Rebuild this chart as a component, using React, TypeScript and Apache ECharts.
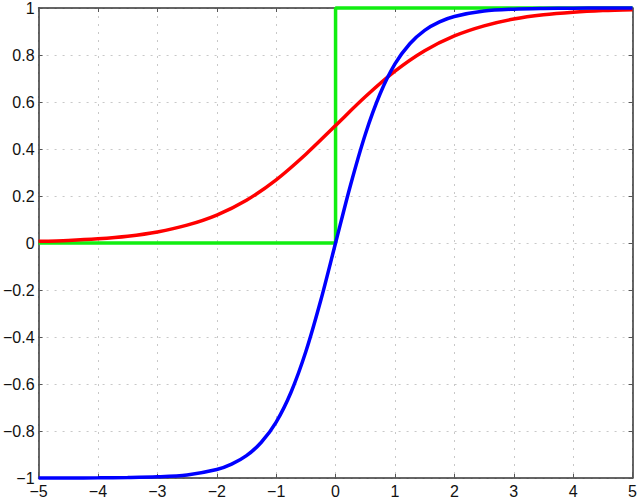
import React, { useEffect, useRef } from "react";
import * as echarts from "echarts";

const sigmoidX = [-5, -4.5, -4, -3.5, -3, -2.5, -2, -1.5, -1, -0.5, 0, 0.5, 1, 1.5, 2, 2.5, 3, 3.5, 4, 4.5, 5];
const sigmoidY = [0.007, 0.011, 0.018, 0.029, 0.047, 0.076, 0.119, 0.182, 0.269, 0.378, 0.5, 0.622, 0.731, 0.818, 0.881, 0.924, 0.953, 0.971, 0.982, 0.989, 0.993];

const tanhX = [-5, -4.5, -4, -3.5, -3, -2.5, -2, -1.75, -1.5, -1.25, -1, -0.75, -0.5, -0.25, 0, 0.25, 0.5, 0.75, 1, 1.25, 1.5, 1.75, 2, 2.5, 3, 3.5, 4, 4.5, 5];
const tanhY = [-1.0, -0.9998, -0.9993, -0.998, -0.995, -0.987, -0.964, -0.941, -0.905, -0.848, -0.762, -0.635, -0.462, -0.245, 0, 0.245, 0.462, 0.635, 0.762, 0.848, 0.905, 0.941, 0.964, 0.987, 0.995, 0.998, 0.9993, 0.9998, 1.0];

const stepX = [-5, 0, 0, 5];
const stepY = [0, 0, 1, 1];

const zip = (xs: number[], ys: number[]) => xs.map((x, i) => [x, ys[i]]);
const fmt = (v: number) => {
  const r = Math.round(v * 10) / 10;
  return String(r).replace("-", "\u2212");
};

export default function App() {
  const ref = useRef<HTMLDivElement>(null);
  useEffect(() => {
    const chart = echarts.init(ref.current!, null, { renderer: "svg" });
    const labelStyle = { color: "#111", fontSize: 16, fontFamily: "Liberation Sans, Arial, sans-serif" };
    const axisLine = { show: true, onZero: false, lineStyle: { color: "#333", width: 1.5 } };
    const tick = { show: true, inside: true, length: 4, lineStyle: { color: "#555" } };
    const split = { show: true, lineStyle: { color: "#c8c8c8", type: [2, 6] as any, width: 1 } };
    chart.setOption({
      animation: false,
      backgroundColor: "#fff",
      grid: { left: 35, right: 4, top: 6, bottom: 20, containLabel: false },
      xAxis: [
        {
          type: "value", min: -5, max: 5, interval: 1, position: "bottom",
          axisLine, axisTick: tick, splitLine: split,
          axisLabel: { ...labelStyle, margin: 5, formatter: fmt },
        },
        {
          type: "value", min: -5, max: 5, interval: 1, position: "top",
          axisLine, axisTick: tick, splitLine: { show: false }, axisLabel: { show: false },
        },
      ],
      yAxis: [
        {
          type: "value", min: -1, max: 1, interval: 0.2, position: "left",
          axisLine, axisTick: tick, splitLine: split,
          axisLabel: { ...labelStyle, margin: 4, formatter: fmt },
        },
        {
          type: "value", min: -1, max: 1, interval: 0.2, position: "right",
          axisLine, axisTick: tick, splitLine: { show: false }, axisLabel: { show: false },
        },
      ],
      series: [
        {
          type: "line", data: zip(stepX, stepY), showSymbol: false, clip: false,
          lineStyle: { color: "#11ee11", width: 3.5 }, z: 3,
        },
        {
          type: "line", data: zip(sigmoidX, sigmoidY), showSymbol: false, smooth: 0.3, clip: false,
          lineStyle: { color: "#ff0000", width: 3.5 }, z: 4,
        },
        {
          type: "line", data: zip(tanhX, tanhY), showSymbol: false, smooth: 0.3, clip: false,
          lineStyle: { color: "#0000ff", width: 3.5 }, z: 5,
        },
      ],
    });
    return () => chart.dispose();
  }, []);
  return <div ref={ref} style={{ width: 640, height: 499, position: "fixed", left: 0, top: 0 }} />;
}
